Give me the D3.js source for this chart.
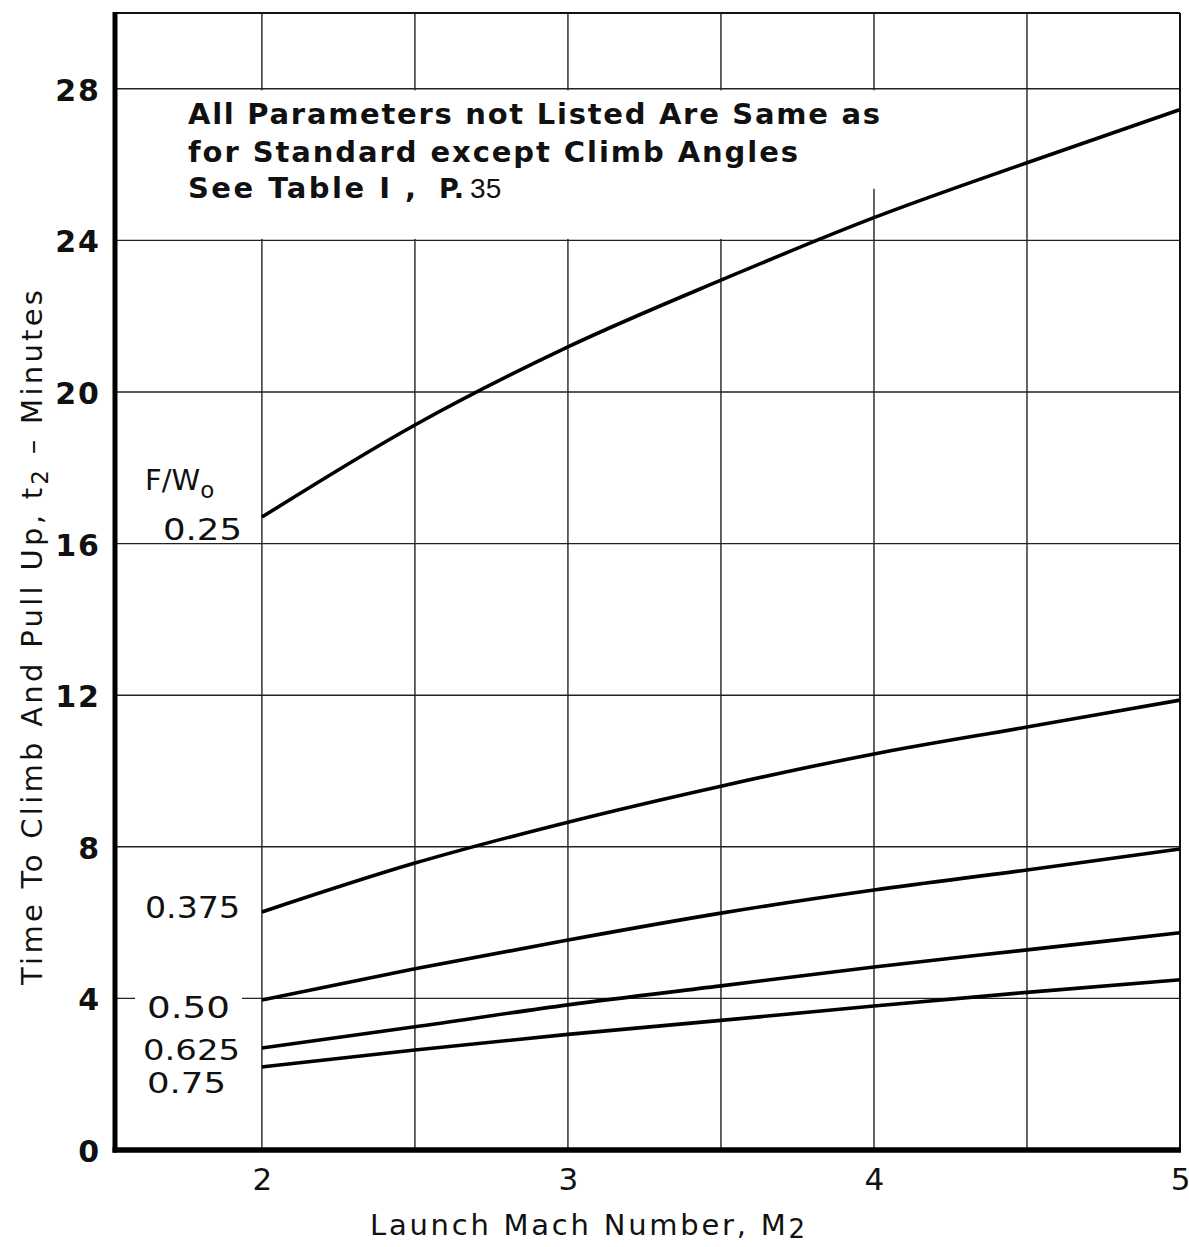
<!DOCTYPE html>
<html><head><meta charset="utf-8">
<script src="https://cdn.jsdelivr.net/npm/d3@7"></script>
<style>body{margin:0;background:#fff}</style>
</head><body>
<svg id="chart" width="1189" height="1247"></svg>
<script>
// ---- data ----
const machNumbers = [2, 2.5, 3, 3.5, 4, 4.5, 5];
const fw025  = [16.70, 19.13, 21.19, 22.95, 24.60, 26.05, 27.45];
const fw0375 = [6.28, 7.57, 8.65, 9.60, 10.45, 11.16, 11.87];
const fw050  = [3.96, 4.78, 5.54, 6.25, 6.86, 7.39, 7.94];
const fw0625 = [2.69, 3.25, 3.83, 4.33, 4.83, 5.28, 5.73];
const fw075  = [2.19, 2.64, 3.05, 3.42, 3.80, 4.16, 4.49];
const seriesLabels = ["0.25", "0.375", "0.50", "0.625", "0.75"];
const xTickValues = [2, 3, 4, 5];
const yTickValues = [0, 4, 8, 12, 16, 20, 24, 28];
const xGridValues = [2, 2.5, 3, 3.5, 4, 4.5];
const yGridValues = [4, 8, 12, 16, 20, 24, 28];
const noteLines = ["All Parameters not Listed Are Same as", "for Standard except Climb Angles", "See Table I ,"];

// ---- layout ----
const svg = d3.select("#chart");
const x = d3.scaleLinear().domain([1.52, 5]).range([115, 1180]);
const y = d3.scaleLinear().domain([0, 30]).range([1150, 13]);
const font = "'DejaVu Sans', sans-serif";

// grid
const grid = svg.append("g").attr("stroke", "#222").attr("stroke-width", 1.4);
grid.selectAll("line.h").data(yGridValues).join("line")
  .attr("x1", x(1.52)).attr("x2", x(5)).attr("y1", d => y(d)).attr("y2", d => y(d));
grid.selectAll("line.v").data(xGridValues).join("line")
  .attr("x1", d => x(d)).attr("x2", d => x(d)).attr("y1", y(0)).attr("y2", y(30));
// top & right border
svg.append("line").attr("x1", x(1.52)).attr("x2", x(5)).attr("y1", y(30)).attr("y2", y(30)).attr("stroke", "#111").attr("stroke-width", 2);
svg.append("line").attr("x1", x(5)).attr("x2", x(5)).attr("y1", y(30)).attr("y2", y(0)).attr("stroke", "#111").attr("stroke-width", 2);

// note area mask (grid broken by the note)
svg.append("rect").attr("x", x(1.52) + 3).attr("y", y(28) + 1.5)
  .attr("width", x(3.8) - x(1.52) - 3).attr("height", y(24) - y(28) - 3).attr("fill", "#fff");
svg.append("rect").attr("x", x(3.8)).attr("y", y(28) + 1.5)
  .attr("width", x(4.1) - x(3.8)).attr("height", y(25.4) - y(28)).attr("fill", "#fff");

// axes
const yAxis = d3.axisLeft(y).tickValues(yTickValues).tickSize(0).tickPadding(14).tickFormat(d3.format("d"));
const gy = svg.append("g").attr("transform", `translate(${x(1.52)},0)`).call(yAxis);
gy.select(".domain").remove();
gy.selectAll("text").attr("font-family", font).attr("font-weight", "bold")
  .attr("font-size", 30).attr("fill", "#111").attr("dy", "0.38em").attr("letter-spacing", 2);

const xAxis = d3.axisBottom(x).tickValues(xTickValues).tickSize(0).tickPadding(18).tickFormat(d3.format("d"));
const gx = svg.append("g").attr("transform", `translate(0,${y(0)})`).call(xAxis);
gx.select(".domain").remove();
gx.selectAll("text").attr("font-family", font).attr("font-size", 31).attr("fill", "#111");

// thick left and bottom axis lines
svg.append("line").attr("x1", x(1.52)).attr("x2", x(1.52)).attr("y1", y(30) - 1).attr("y2", y(0) + 2.5)
  .attr("stroke", "#000").attr("stroke-width", 5);
svg.append("line").attr("x1", x(1.52) - 2.5).attr("x2", x(5) + 1).attr("y1", y(0)).attr("y2", y(0))
  .attr("stroke", "#000").attr("stroke-width", 5.5);

// curves
const allSeries = [fw025, fw0375, fw050, fw0625, fw075];
const line = d3.line().x((d, i) => x(machNumbers[i])).y(d => y(d)).curve(d3.curveMonotoneX);
svg.append("g").selectAll("path").data(allSeries).join("path")
  .attr("d", d => line(d)).attr("fill", "none").attr("stroke", "#000")
  .attr("stroke-width", 3.6).attr("stroke-linecap", "butt");

// curve labels
const labelPos = [[242, 540, 79, 30], [240, 918, 95, 30], [230, 1018, 83, 30], [240, 1060, 97, 28], [226, 1093, 79, 28]];
const lg = svg.append("g");
seriesLabels.forEach((t, i) => {
  const [lx, ly, lw, fs] = labelPos[i];
  const txt = lg.append("text").attr("x", lx).attr("y", ly).attr("text-anchor", "end")
    .attr("font-family", font).attr("font-size", fs).attr("fill", "#111")
    .attr("textLength", lw).attr("lengthAdjust", "spacingAndGlyphs").text(t);
  if (t === "0.25" || t === "0.50") {
    const bb = txt.node().getBBox();
    lg.insert("rect", "text").attr("x", bb.x - 12).attr("y", bb.y + 4)
      .attr("width", bb.width + 24).attr("height", bb.height - 8).attr("fill", "#fff");
  }
});
const fwl = svg.append("text").attr("x", 145).attr("y", 490)
  .attr("font-family", font).attr("font-size", 29).attr("fill", "#111");
fwl.append("tspan").text("F/W");
fwl.append("tspan").attr("font-size", 23).attr("dy", 8).text("o");

// note text
const noteY = [124, 162, 198];
const noteW = [692, 610, 228];
noteLines.forEach((t, i) => {
  svg.append("text").attr("x", 188).attr("y", noteY[i])
    .attr("font-family", font).attr("font-weight", "bold").attr("font-size", 29).attr("fill", "#111")
    .attr("textLength", noteW[i]).attr("lengthAdjust", "spacing").text(t);
});
const pt = svg.append("text").attr("x", 439).attr("y", 198).attr("fill", "#111");
pt.append("tspan").attr("font-family", font).attr("font-weight", "bold").attr("font-size", 27).text("P.");
pt.append("tspan").attr("font-family", "'Liberation Sans', sans-serif").attr("font-size", 28).attr("dx", 6).text("35");

// axis titles
const xt = svg.append("text").attr("x", 370).attr("y", 1235)
  .attr("font-family", font).attr("font-size", 29).attr("fill", "#111")
  .attr("textLength", 435).attr("lengthAdjust", "spacing");
xt.append("tspan").text("Launch Mach Number, M");
xt.append("tspan").attr("font-size", 26).attr("dy", 3).text("2");

const ytl = svg.append("text").attr("transform", "translate(42,985) rotate(-90)")
  .attr("font-family", font).attr("font-size", 29).attr("fill", "#111")
  .attr("textLength", 695).attr("lengthAdjust", "spacing");
ytl.append("tspan").text("Time To Climb And Pull Up, t");
ytl.append("tspan").attr("font-size", 23).attr("dy", 6).text("2");
ytl.append("tspan").attr("dy", -6).text(" – Minutes");
</script>
</body></html>
